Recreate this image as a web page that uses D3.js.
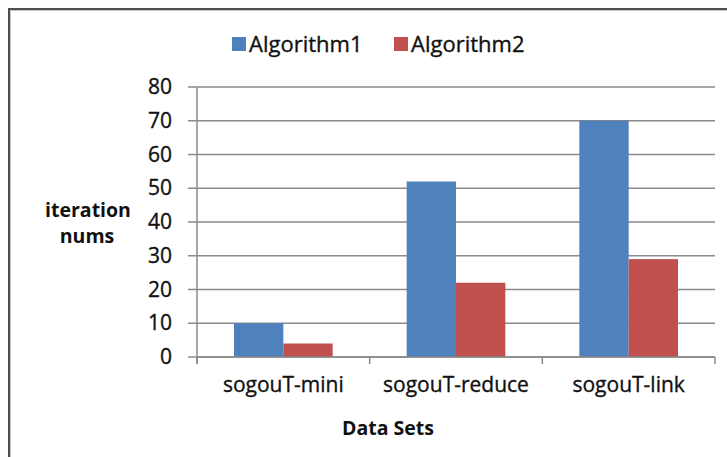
<!DOCTYPE html>
<html>
<head>
<meta charset="utf-8">
<script src="https://cdn.jsdelivr.net/npm/d3@7"></script>
<style>
  html, body { margin: 0; padding: 0; background: #fff; }
  svg { display: block; }
  text { font-family: "Open Sans", "Noto Sans", sans-serif; fill: #111; }
  .lbl { stroke: #111; stroke-width: 0.35px; }
</style>
</head>
<body>
<script>
// Data: iteration counts per data set for the two algorithms
const categories = ["sogouT-mini", "sogouT-reduce", "sogouT-link"];
const seriesNames = ["Algorithm1", "Algorithm2"];
const algorithm1 = [10, 52, 70];
const algorithm2 = [4, 22, 29];
const yTicks = [0, 10, 20, 30, 40, 50, 60, 70, 80];
const seriesColors = ["#4F81BD", "#C0504D"];

const W = 727, H = 457;
const plot = { left: 197, right: 715, top: 87, bottom: 357 };

const svg = d3.select("body").append("svg")
  .attr("width", W).attr("height", H);

// Outer frame
svg.append("rect")
  .attr("x", 9).attr("y", 9).attr("width", W + 20).attr("height", H + 20)
  .attr("fill", "none").attr("stroke", "#4d4d4d").attr("stroke-width", 2);
svg.append("rect")
  .attr("x", 10.5).attr("y", 10.5).attr("width", W + 20).attr("height", H + 20)
  .attr("fill", "none").attr("stroke", "#c8c8c8").attr("stroke-width", 1);

const rows = categories.map((c, i) => ({ cat: c, values: [algorithm1[i], algorithm2[i]] }));

const x0 = d3.scaleBand().domain(categories).range([plot.left, plot.right])
  .paddingInner(0).paddingOuter(0);
// Each pair of bars sits in the band with a gap of 1.5 bar widths around it
const barW = x0.bandwidth() / 3.5;
const x1 = d3.scaleBand().domain(d3.range(seriesNames.length))
  .range([barW * 0.75, barW * 0.75 + barW * 2]).padding(0);
const y = d3.scaleLinear().domain([0, 80]).range([plot.bottom, plot.top]);

const gridColor = "#8a8a8a";

// Horizontal gridlines with ticks that extend left of the value axis
svg.append("g").selectAll("line").data(yTicks).join("line")
  .attr("x1", plot.left - 9).attr("x2", plot.right)
  .attr("y1", d => y(d)).attr("y2", d => y(d))
  .attr("stroke", gridColor).attr("stroke-width", 1.5);

// Value axis labels
const yAxis = d3.axisLeft(y).tickValues(yTicks).tickSize(0).tickPadding(25);
const gy = svg.append("g").attr("transform", `translate(${plot.left},0)`).call(yAxis);
gy.select(".domain").remove();
gy.selectAll("text").attr("class", "lbl").style("font-family", '"Open Sans", sans-serif')
  .style("font-size", "21px").attr("fill", "#111");

// Bars
svg.append("g").selectAll("g").data(rows).join("g")
  .attr("transform", d => `translate(${x0(d.cat)},0)`)
  .selectAll("rect").data(d => d.values).join("rect")
  .attr("x", (d, i) => x1(i))
  .attr("width", x1.bandwidth())
  .attr("y", d => y(d))
  .attr("height", d => y(0) - y(d))
  .attr("fill", (d, i) => seriesColors[i]);

// Value axis line
svg.append("line")
  .attr("x1", plot.left).attr("x2", plot.left)
  .attr("y1", plot.top).attr("y2", plot.bottom + 7)
  .attr("stroke", gridColor).attr("stroke-width", 1.5);

// Category axis line and boundary ticks
svg.append("line")
  .attr("x1", plot.left).attr("x2", plot.right)
  .attr("y1", plot.bottom).attr("y2", plot.bottom)
  .attr("stroke", gridColor).attr("stroke-width", 1.5);
const boundaries = categories.map(c => x0(c)).concat([plot.right]);
svg.append("g").selectAll("line").data(boundaries).join("line")
  .attr("x1", d => d).attr("x2", d => d)
  .attr("y1", plot.bottom).attr("y2", plot.bottom + 7)
  .attr("stroke", gridColor).attr("stroke-width", 1.5);

// Category labels
const xAxis = d3.axisBottom(x0).tickSize(0).tickPadding(20);
const gx = svg.append("g").attr("transform", `translate(0,${plot.bottom})`).call(xAxis);
gx.select(".domain").remove();
gx.selectAll("text").attr("class", "lbl").style("font-family", '"Open Sans", sans-serif')
  .style("font-size", "21px").attr("fill", "#111");

// Axis titles
svg.append("text")
  .attr("x", 388).attr("y", 435).attr("text-anchor", "middle")
  .style("font-size", "19.5px").style("font-weight", "bold")
  .text("Data Sets");
const yTitle = svg.append("text")
  .attr("text-anchor", "middle")
  .style("font-size", "19.5px").style("font-weight", "bold");
yTitle.append("tspan").attr("x", 88).attr("y", 217).text("iteration");
yTitle.append("tspan").attr("x", 87).attr("y", 243).text("nums");

// Legend
const legendX = [232, 394];
const legend = svg.append("g").selectAll("g").data(seriesNames).join("g")
  .attr("transform", (d, i) => `translate(${legendX[i]},37)`);
legend.append("rect").attr("width", 14).attr("height", 14)
  .attr("fill", (d, i) => seriesColors[i]);
legend.append("text").attr("class", "lbl").attr("x", 17).attr("y", 14.5)
  .style("font-size", "22px").text(d => d);
</script>
</body>
</html>
